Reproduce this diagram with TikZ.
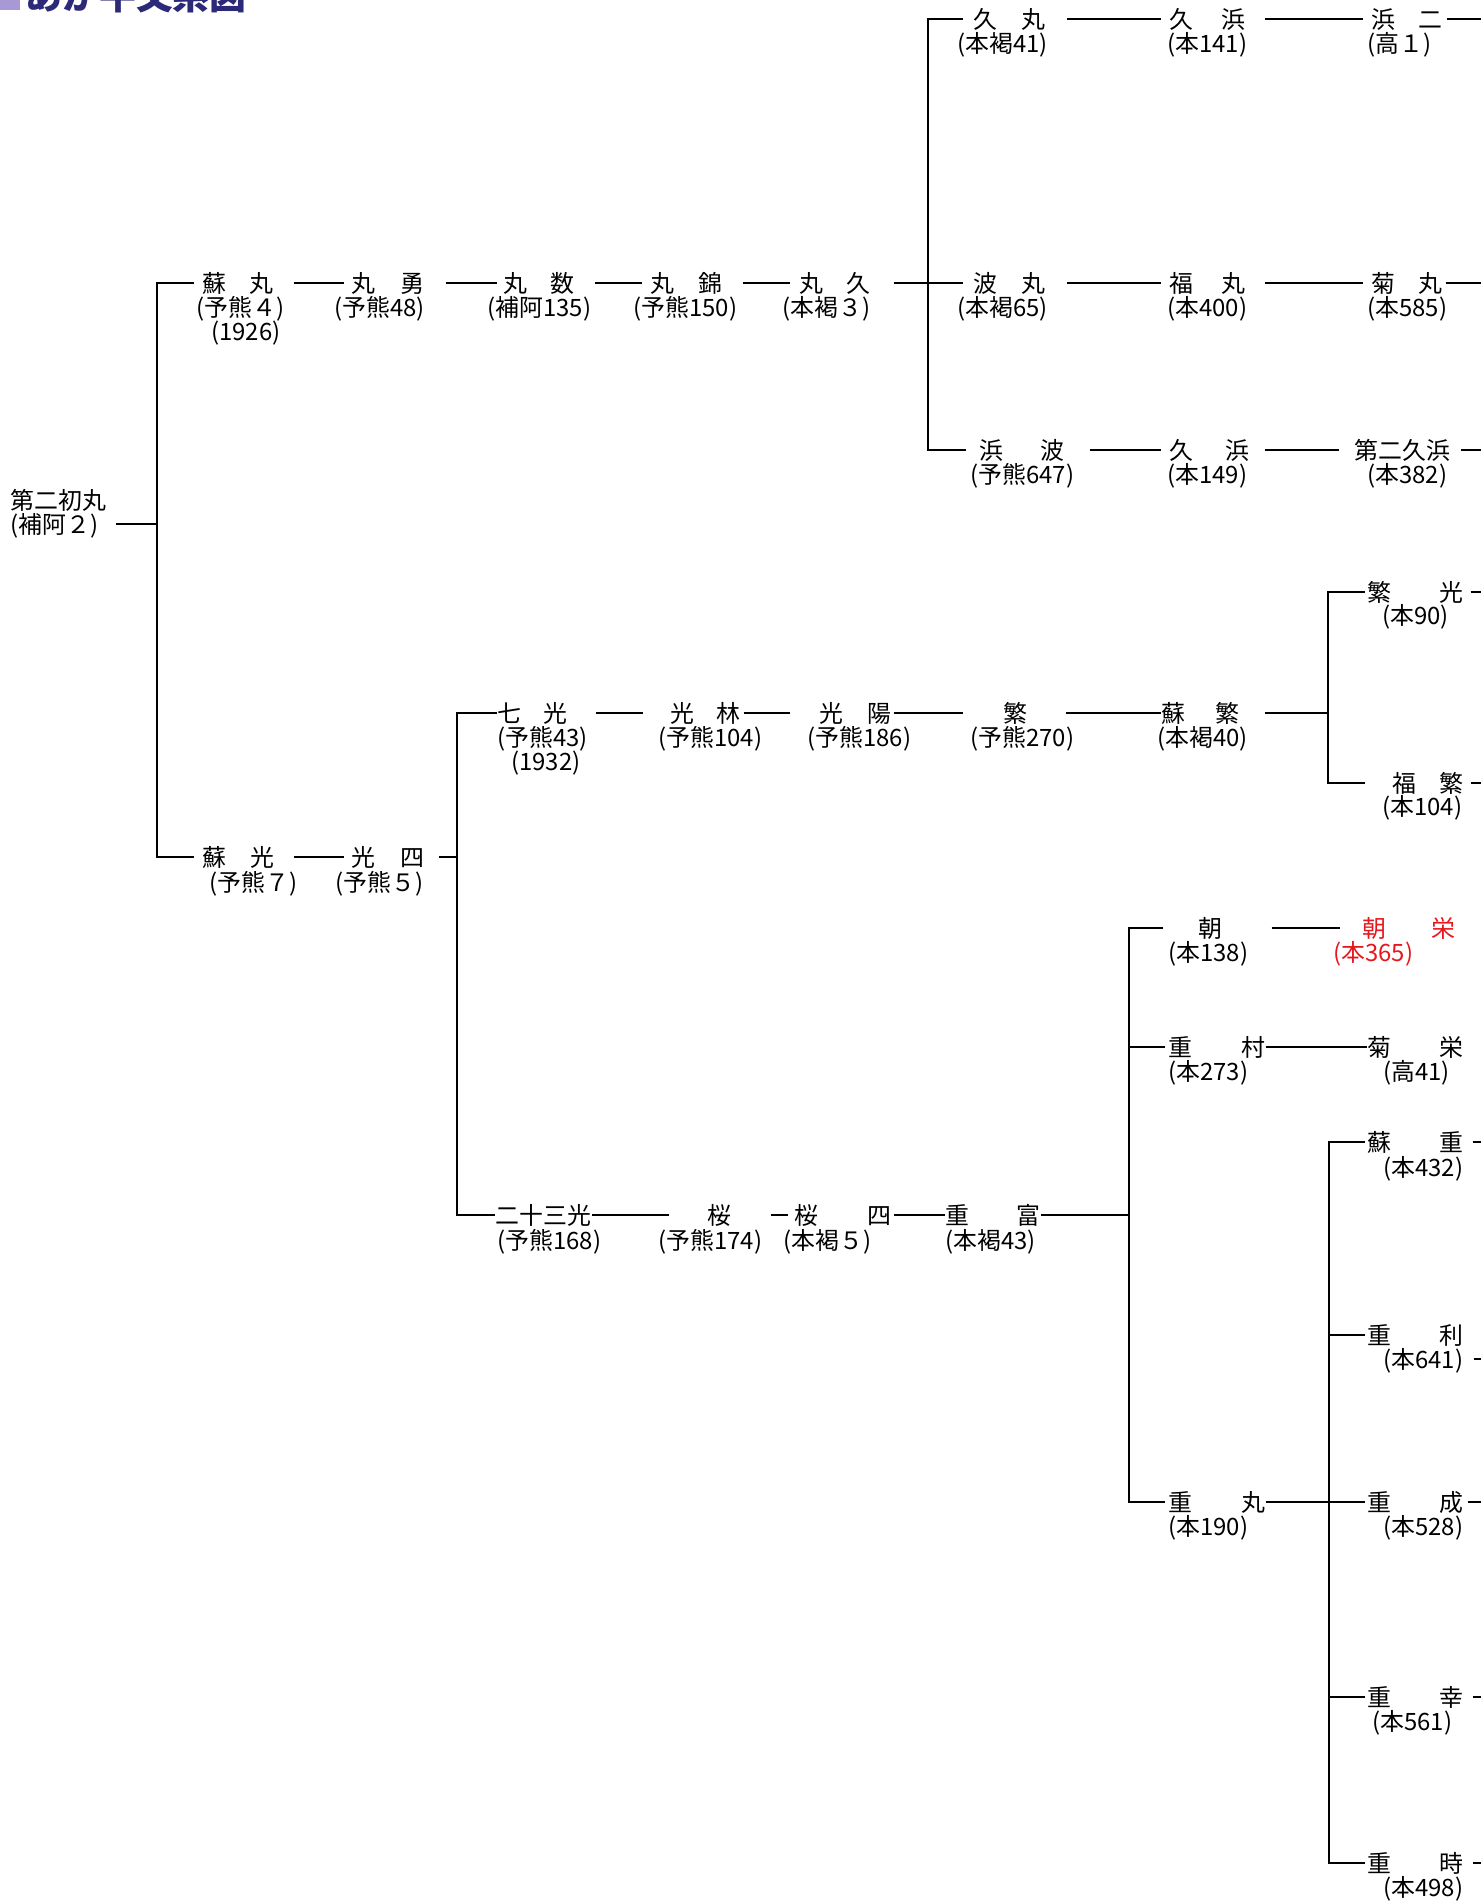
\documentclass[tikz,border=0pt]{standalone}
\usepackage{fontspec}
\newfontfamily\jpfont{Noto Sans CJK JP}
\usetikzlibrary{calc}
\definecolor{titleblue}{RGB}{44,42,120}
\definecolor{titlemark}{RGB}{168,152,214}
\definecolor{redname}{RGB}{230,24,30}
\newlength\pxlen
\setlength\pxlen{0.02cm}
\newcommand\kname[3]{\makebox[#1\pxlen][s]{#2\hfill#3}}

\begin{document}
\begin{tikzpicture}[x=0.02cm, y=-0.02cm,
    nm/.style={anchor=west, inner sep=0pt, text height=12.4pt, text depth=2pt,
        font=\jpfont\fontsize{13.6}{14}\selectfont},
    num/.style={nm},
    link/.style={line width=1pt},
    gaps/.style 2 args={shorten <=#1\pxlen, shorten >=#2\pxlen}]
    \useasboundingbox (0,0) rectangle (1481,1901);
    \clip (0,0) rectangle (1481,1901);
    \fill[titlemark] (0,-30) rectangle (20,10);
    \node[anchor=base west, inner sep=0pt, text=titleblue,
        font=\jpfont\bfseries\fontsize{21}{24}\selectfont] (title) at (25,9) {あか牛父系図};

    \coordinate (jA) at (157,524);
    \coordinate (jB) at (928,283);
    \coordinate (jC) at (457,857);
    \coordinate (jD) at (1328,713);
    \coordinate (jE) at (1129,1215);
    \coordinate (jF) at (1329,1502);
    \coordinate (rim) at (1490,0);

    \node[nm] (hatsumaru) at (10,500) {第二初丸};
    \node[num] (hatsumaru-n) at (10,524) {(補阿２)};

    \node[nm] (kyumaru) at (973,19) {\kname{72}{久}{丸}};
    \node[num] (kyumaru-n) at (957,43) {(本褐41)};
    \node[nm] (kyuhama) at (1169,19) {\kname{76}{久}{浜}};
    \node[num] (kyuhama-n) at (1167,43) {(本141)};
    \node[nm] (hamani) at (1371,19) {\kname{71}{浜}{二}};
    \node[num] (hamani-n) at (1367,43) {(高１)};

    \node[nm] (somaru) at (202,283) {\kname{71}{蘇}{丸}};
    \node[num] (somaru-n) at (196,307) {(予熊４)};
    \node[num] (somaru-y) at (211,331) {(1926)};
    \node[nm] (maruisamu) at (351,283) {\kname{73}{丸}{勇}};
    \node[num] (maruisamu-n) at (334,307) {(予熊48)};
    \node[nm] (marukazu) at (503,283) {\kname{71}{丸}{数}};
    \node[num] (marukazu-n) at (487,307) {(補阿135)};
    \node[nm] (marunishiki) at (650,283) {\kname{72}{丸}{錦}};
    \node[num] (marunishiki-n) at (633,307) {(予熊150)};
    \node[nm] (marukyu) at (799,283) {\kname{71}{丸}{久}};
    \node[num] (marukyu-n) at (782,307) {(本褐３)};
    \node[nm] (hamaru) at (973,283) {\kname{72}{波}{丸}};
    \node[num] (hamaru-n) at (957,307) {(本褐65)};
    \node[nm] (fukumaru) at (1169,283) {\kname{76}{福}{丸}};
    \node[num] (fukumaru-n) at (1167,307) {(本400)};
    \node[nm] (kikumaru) at (1371,283) {\kname{71}{菊}{丸}};
    \node[num] (kikumaru-n) at (1367,307) {(本585)};

    \node[nm] (hamanami) at (979,450) {\kname{85}{浜}{波}};
    \node[num] (hamanami-n) at (970,474) {(予熊647)};
    \node[nm] (kyuhama2) at (1169,450) {\kname{80}{久}{浜}};
    \node[num] (kyuhama2-n) at (1167,474) {(本149)};
    \node[nm] (dai2kyuhama) at (1354,450) {第二久浜};
    \node[num] (dai2kyuhama-n) at (1367,474) {(本382)};

    \node[nm] (shigemitsu) at (1367,592) {\kname{96}{繁}{光}};
    \node[num] (shigemitsu-n) at (1382,615) {(本90)};
    \node[nm] (fukushige) at (1392,783) {\kname{71}{福}{繁}};
    \node[num] (fukushige-n) at (1382,806) {(本104)};

    \node[nm] (shichikou) at (497,713) {\kname{70}{七}{光}};
    \node[num] (shichikou-n) at (497,737) {(予熊43)};
    \node[num] (shichikou-y) at (511,761) {(1932)};
    \node[nm] (kourin) at (670,713) {\kname{70}{光}{林}};
    \node[num] (kourin-n) at (658,737) {(予熊104)};
    \node[nm] (kouyou) at (819,713) {\kname{72}{光}{陽}};
    \node[num] (kouyou-n) at (807,737) {(予熊186)};
    \node[nm] (shige) at (1003,713) {繁};
    \node[num] (shige-n) at (970,737) {(予熊270)};
    \node[nm] (soshige) at (1161,713) {\kname{78}{蘇}{繁}};
    \node[num] (soshige-n) at (1157,737) {(本褐40)};

    \node[nm] (sokou) at (202,857) {\kname{72}{蘇}{光}};
    \node[num] (sokou-n) at (209,882) {(予熊７)};
    \node[nm] (kouyon) at (351,857) {\kname{73}{光}{四}};
    \node[num] (kouyon-n) at (335,882) {(予熊５)};

    \node[nm] (nijusankou) at (495,1215) {二十三光};
    \node[num] (nijusankou-n) at (497,1240) {(予熊168)};
    \node[nm] (sakura) at (707,1215) {桜};
    \node[num] (sakura-n) at (658,1240) {(予熊174)};
    \node[nm] (sakurayon) at (794,1215) {\kname{97}{桜}{四}};
    \node[num] (sakurayon-n) at (783,1240) {(本褐５)};
    \node[nm] (shigetomi) at (945,1215) {\kname{95}{重}{富}};
    \node[num] (shigetomi-n) at (945,1240) {(本褐43)};

    \node[nm] (asa) at (1198,928) {朝};
    \node[num] (asa-n) at (1168,952) {(本138)};
    \node[nm, text=redname] (asaei) at (1362,928) {\kname{93}{朝}{栄}};
    \node[num, text=redname] (asaei-n) at (1333,952) {(本365)};
    \node[nm] (shigemura) at (1168,1047) {\kname{97}{重}{村}};
    \node[num] (shigemura-n) at (1168,1071) {(本273)};
    \node[nm] (kikuei) at (1367,1047) {\kname{96}{菊}{栄}};
    \node[num] (kikuei-n) at (1383,1071) {(高41)};
    \node[nm] (shigemaru) at (1168,1502) {\kname{97}{重}{丸}};
    \node[num] (shigemaru-n) at (1168,1526) {(本190)};

    \node[nm] (soju) at (1367,1142) {\kname{96}{蘇}{重}};
    \node[num] (soju-n) at (1383,1167) {(本432)};
    \node[nm] (shigetoshi) at (1367,1335) {\kname{96}{重}{利}};
    \node[num] (shigetoshi-n) at (1383,1359) {(本641)};
    \node[nm] (shigenari) at (1367,1502) {\kname{96}{重}{成}};
    \node[num] (shigenari-n) at (1383,1526) {(本528)};
    \node[nm] (shigeyuki) at (1367,1697) {\kname{96}{重}{幸}};
    \node[num] (shigeyuki-n) at (1372,1721) {(本561)};
    \node[nm] (shigetoki) at (1367,1863) {\kname{96}{重}{時}};
    \node[num] (shigetoki-n) at (1383,1887) {(本498)};

    \draw[link, gaps={17}{0}] (hatsumaru-n) -- (jA);
    \draw[link, gaps={14}{0}] (kouyon) -- (jC);
    \draw[link, gaps={25}{0}] (soshige) -- (jD);
    \draw[link] (shigetomi) -- (jE);

    \foreach \a/\b/\g/\h in {somaru/maruisamu/20/7, maruisamu/marukazu/21/6,
        marukazu/marunishiki/20/8, marunishiki/marukyu/20/9, marukyu/hamaru/23/10,
        kyumaru/kyuhama/21/8, kyuhama/hamani/19/8, hamaru/fukumaru/21/8,
        fukumaru/kikumaru/19/8, hamanami/kyuhama2/25/8, kyuhama2/dai2kyuhama/15/15,
        sokou/kouyon/19/7, shichikou/kourin/28/27, kourin/kouyou/3/29,
        kouyou/shige/2/40, shige/soshige/38/0, nijusankou/sakura/1/38,
        sakura/sakurayon/39/6, sakurayon/shigetomi/2/0, asa/asaei/49/22,
        shigemura/kikuei/0/0, shigemaru/shigenari/0/2}
        \draw[link, gaps={\g}{\h}] (\a) -- (\b);

    \foreach \j/\c/\h in {jA/somaru/8, jA/sokou/8, jB/kyumaru/10, jB/hamanami/13,
        jC/shichikou/0, jC/nijusankou/0, jD/shigemitsu/2, jD/fukushige/27,
        jE/asa/35, jE/shigemura/3, jE/shigemaru/3, jF/soju/2, jF/shigetoshi/2,
        jF/shigeyuki/2, jF/shigetoki/2}
        \draw[link, shorten >=\h\pxlen] (\j) |- (\c);

    \foreach \n/\g in {hamani/4, kikumaru/3, dai2kyuhama/11, shigemitsu/7,
        fukushige/7, soju/9, shigetoshi-n/10, shigenari/4, shigeyuki/9, shigetoki/9}
        \draw[link, shorten <=\g\pxlen] (\n) -- (\n -| rim);
\end{tikzpicture}
\end{document}
